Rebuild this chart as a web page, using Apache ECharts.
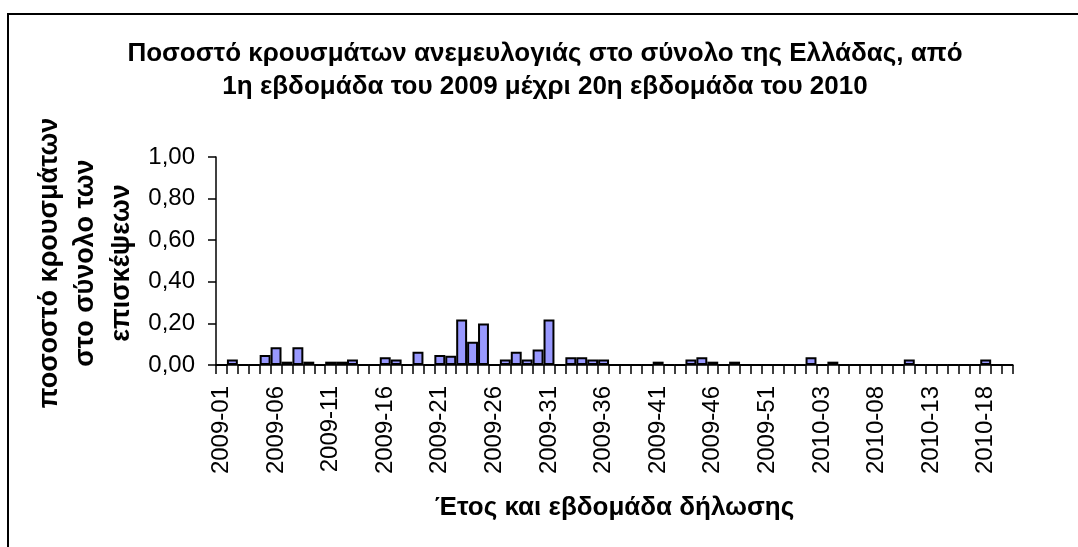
<!DOCTYPE html>
<html>
<head>
<meta charset="utf-8">
<script src="https://cdn.jsdelivr.net/npm/echarts@6/dist/echarts.min.js"></script>
<style>
  html, body { margin: 0; padding: 0; background: #fff; }
  #chart { width: 1078px; height: 547px; }
</style>
</head>
<body>
<div id="chart"></div>
<script>
// εβδομάδες: 2009 έχει 53 εβδομάδες, 2010 μέχρι την 20η
const weeks2009 = 53
const weeks2010 = 20
const categories = []
for (let w = 1; w <= weeks2009; w++) categories.push('2009-' + String(w).padStart(2, '0'))
for (let w = 1; w <= weeks2010; w++) categories.push('2010-' + String(w).padStart(2, '0'))

// ποσοστά ανά εβδομάδα (διαβασμένα από το γράφημα)
const values2009 = [
  0, 0.027, 0, 0, 0.048, 0.085, 0.016, 0.085, 0.016, 0,
  0.016, 0.016, 0.027, 0, 0, 0.037, 0.027, 0, 0.064, 0,
  0.048, 0.045, 0.219, 0.112, 0.2, 0, 0.027, 0.064, 0.027, 0.075,
  0.219, 0, 0.037, 0.037, 0.027, 0.027, 0, 0, 0, 0,
  0.016, 0, 0, 0.027, 0.037, 0.016, 0, 0.016, 0, 0,
  0, 0, 0
]
const values2010 = [
  0, 0.037, 0, 0.016, 0, 0, 0, 0, 0, 0,
  0.027, 0, 0, 0, 0, 0, 0, 0.027, 0, 0
]
const values = values2009.concat(values2010)

const yTicks = [0, 0.2, 0.4, 0.6, 0.8, 1.0]

const fontFamily = '"Liberation Sans", Arial, sans-serif'
const chart = echarts.init(document.getElementById('chart'))

chart.setOption({
  animation: false,
  backgroundColor: '#fff',
  title: {
    text: 'Ποσοστό κρουσμάτων ανεμευλογιάς στο σύνολο της Ελλάδας, από\n1η εβδομάδα του 2009 μέχρι 20η εβδομάδα του 2010',
    left: 540,
    textAlign: 'center',
    top: 32,
    textStyle: {
      fontFamily: fontFamily,
      fontSize: 26,
      fontWeight: 'bold',
      color: '#000',
      lineHeight: 33
    }
  },
  graphic: [
    {
      type: 'rect',
      shape: { x: 8, y: 14, width: 1100, height: 560 },
      style: { fill: 'none', stroke: '#000', lineWidth: 2 }
    },
    {
      type: 'text',
      x: 86,
      y: 263,
      rotation: Math.PI / 2,
      style: {
        text: 'ποσοστό κρουσμάτων\nστο σύνολο των\nεπισκέψεων',
        align: 'center',
        verticalAlign: 'middle',
        fontFamily: fontFamily,
        fontSize: 27,
        fontWeight: 'bold',
        lineHeight: 36,
        fill: '#000'
      }
    }
  ],
  grid: {
    left: 216,
    right: 65,
    top: 157,
    bottom: 182
  },
  xAxis: {
    type: 'category',
    data: categories,
    boundaryGap: true,
    name: 'Έτος και εβδομάδα δήλωσης',
    nameLocation: 'middle',
    nameGap: 130,
    nameTextStyle: {
      fontFamily: fontFamily,
      fontSize: 26,
      fontWeight: 'bold',
      color: '#000'
    },
    axisLine: { show: true, lineStyle: { color: '#000', width: 1.5 } },
    axisTick: {
      show: true,
      interval: 0,
      alignWithLabel: false,
      length: 9,
      lineStyle: { color: '#000', width: 1.5 }
    },
    axisLabel: {
      interval: 4,
      rotate: 90,
      margin: 21,
      fontFamily: fontFamily,
      fontSize: 24,
      color: '#000'
    }
  },
  yAxis: {
    type: 'value',
    min: yTicks[0],
    max: yTicks[yTicks.length - 1],
    interval: 0.2,
    axisLine: { show: true, lineStyle: { color: '#000', width: 1.5 } },
    axisTick: { show: true, length: 8, lineStyle: { color: '#000', width: 1.5 } },
    splitLine: { show: false },
    axisLabel: {
      margin: 21,
      fontFamily: fontFamily,
      fontSize: 24,
      color: '#000',
      formatter: v => v.toFixed(2).replace('.', ',')
    }
  },
  series: [
    {
      type: 'bar',
      data: values,
      barCategoryGap: '0%',
      itemStyle: {
        color: '#9999ff',
        borderColor: '#000',
        borderWidth: 2
      }
    }
  ]
})
</script>
</body>
</html>
